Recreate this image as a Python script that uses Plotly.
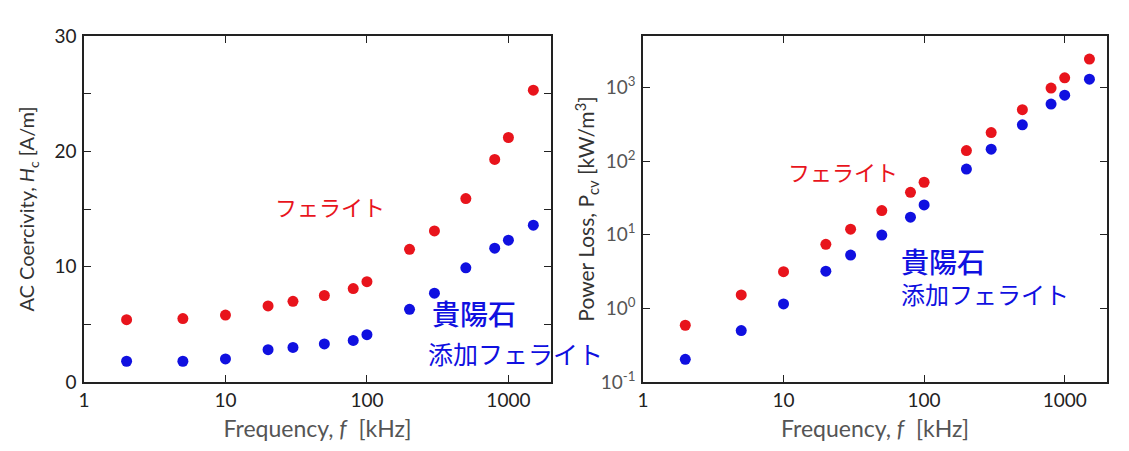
import plotly.graph_objects as go
from plotly.subplots import make_subplots
import numpy as np

# Frecuencia [kHz]
freq = [2, 5, 10, 20, 30, 50, 80, 100, 200, 300, 500, 800, 1000, 1500]

# Coercitividad AC Hc [A/m]
hc_ferrite = [5.4, 5.5, 5.8, 6.6, 7.0, 7.5, 8.1, 8.7, 11.5, 13.1, 15.9, 19.3, 21.2, 25.3]
hc_doped = [1.8, 1.8, 2.0, 2.8, 3.0, 3.3, 3.6, 4.1, 6.3, 7.7, 9.9, 11.6, 12.3, 13.6]

# Perdida de potencia Pcv [kW/m3]
pcv_ferrite = [0.59, 1.52, 3.15, 7.4, 11.9, 21.3, 37.7, 51.6, 139, 244, 500, 980, 1350, 2430]
pcv_doped = [0.203, 0.50, 1.15, 3.2, 5.3, 9.9, 17.3, 25.4, 78, 145, 311, 595, 785, 1295]

x_ticks = [1, 10, 100, 1000]
hc_ticks = [0, 5, 10, 15, 20, 25, 30]
hc_ticktext = ['0', '', '10', '', '20', '', '30']
pcv_ticks = [0.1, 1, 10, 100, 1000]
pcv_ticktext = ['10<sup>-1</sup>', '10<sup>0</sup>', '10<sup>1</sup>', '10<sup>2</sup>', '10<sup>3</sup>']

red = '#e8141c'
blue = '#1010e0'
font_fam = 'Lato, "Noto Sans CJK JP", sans-serif'
cjk_fam = '"Noto Sans CJK JP", sans-serif'

fig = make_subplots(rows=1, cols=2, horizontal_spacing=0.09)

fig.add_trace(go.Scatter(x=freq, y=hc_ferrite, mode='markers',
                         marker=dict(color=red, size=11)), row=1, col=1)
fig.add_trace(go.Scatter(x=freq, y=hc_doped, mode='markers',
                         marker=dict(color=blue, size=11)), row=1, col=1)
fig.add_trace(go.Scatter(x=freq, y=pcv_ferrite, mode='markers',
                         marker=dict(color=red, size=11)), row=1, col=2)
fig.add_trace(go.Scatter(x=freq, y=pcv_doped, mode='markers',
                         marker=dict(color=blue, size=11)), row=1, col=2)

axis_style = dict(showline=True, linecolor='#222', linewidth=1.5, mirror='ticks',
                  ticks='inside', ticklen=7, tickwidth=1.2, tickcolor='#222',
                  showgrid=False, zeroline=False, automargin=False)

for c in [1, 2]:
    fig.update_xaxes(type='log', range=[0, np.log10(2000)], tickvals=x_ticks,
                     ticktext=[str(v) for v in x_ticks],
                     tickfont=dict(family=font_fam, size=19, color='#222'),
                     title=dict(text='Frequency, <i>f</i>&nbsp; [kHz]', standoff=11,
                                font=dict(family=font_fam, size=23, color='#555')),
                     row=1, col=c, **axis_style)

fig.update_yaxes(range=[0, 30], tickvals=hc_ticks, ticktext=hc_ticktext,
                 tickfont=dict(family=font_fam, size=19, color='#222'),
                 ticklabelstandoff=2,
                 title=dict(text='AC Coercivity, <i>H</i><sub>c</sub> [A/m]', standoff=14,
                            font=dict(family=font_fam, size=20, color='#333')),
                 row=1, col=1, **axis_style)
fig.update_yaxes(type='log', range=[-1, np.log10(5000)], tickvals=pcv_ticks,
                 ticktext=pcv_ticktext,
                 tickfont=dict(family=font_fam, size=19, color='#555'),
                 ticklabelstandoff=2,
                 title=dict(text='Power Loss, P<sub>cv</sub> [kW/m<sup>3</sup>]', standoff=0,
                            font=dict(family=font_fam, size=21, color='#333')),
                 row=1, col=2, **axis_style)

# Etiquetas de texto (x en log10 para ejes logaritmicos)
labels = [
    ('x', 'y', 1.74, 15.3, 'フェライト', red, 'center', 22, 400),
    ('x', 'y', 2.445, 6.0, '貴陽石', blue, 'left', 28, 500),
    ('x', 'y', 2.42, 2.5, '添加フェライト', blue, 'left', 25, 400),
    ('x2', 'y2', 1.42, 1.86, 'フェライト', red, 'center', 22, 400),
    ('x2', 'y2', 1.823, 0.44,
     '<span style="font-size:28px;font-weight:500">貴陽石</span><br>添加フェライト',
     blue, 'left', 24, 400),
]
for xr, yr, xv, yv, txt, col, anchor, sz, wt in labels:
    fig.add_annotation(x=xv, y=yv, xref=xr, yref=yr, text=txt, showarrow=False,
                       xanchor=anchor, yanchor='middle', align='left',
                       font=dict(family=cjk_fam, size=sz, color=col, weight=wt))

fig.update_layout(
    width=1121, height=443,
    margin=dict(l=76, r=22, t=28, b=69, autoexpand=False),
    plot_bgcolor='white', paper_bgcolor='white',
    showlegend=False,
)
fig.update_xaxes(domain=[0, 0.4565], row=1, col=1)
fig.update_xaxes(domain=[0.5464, 1], row=1, col=2)

fig.write_html('out.html')
